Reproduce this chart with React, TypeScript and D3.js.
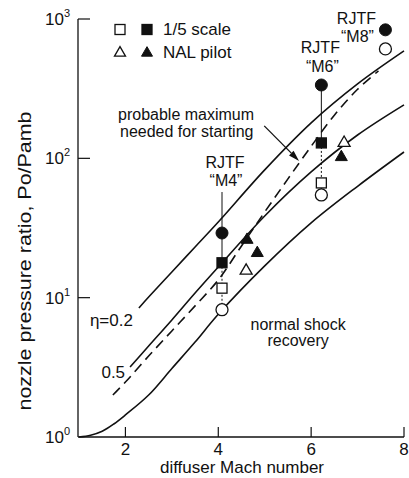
import React from "react";
import * as d3 from "d3";

// ---- axes ----
const xTicks = [2, 4, 6, 8];
const yTicks = [1, 10, 100, 1000];
const yTickExp = ["0", "1", "2", "3"];

// ---- curves (Mach, pressure ratio) ----
const shockM = [1.0, 1.25, 1.5, 1.75, 2.0, 2.5, 3.0, 3.5, 4.0, 5.0, 6.0, 7.0, 8.0];
const shockP = [1.0, 1.03, 1.1, 1.24, 1.44, 2.0, 3.1, 4.8, 7.6, 16.9, 34.4, 63, 111];

const eta05M = [2.1, 2.5, 3.0, 3.5, 4.0, 5.0, 6.0, 7.0, 8.0];
const eta05P = [3.18, 4.5, 6.92, 10.8, 16.6, 38.6, 79.9, 147, 242];

const eta02M = [2.29, 2.5, 3.0, 3.5, 4.0, 5.0, 6.0, 7.0, 8.0];
const eta02P = [8.43, 10.1, 15.3, 23.1, 34.9, 82.6, 179.6, 342, 590];

const startM = [1.73, 2.0, 2.5, 3.0, 3.5, 4.0, 4.5, 5.0, 5.5, 6.0, 6.5, 7.0, 7.45];
const startP = [2.0, 2.48, 3.81, 5.77, 8.73, 13.4, 23.5, 41.2, 71.2, 122, 204, 313, 424];

// ---- test points ----
const rjtfOpenSquare: [number, number][] = [[4.08, 11.7], [6.22, 66.6]];
const rjtfFilledSquare: [number, number][] = [[4.08, 17.8], [6.22, 129]];
const rjtfOpenCircle: [number, number][] = [[4.08, 8.2], [6.22, 54.6], [7.6, 610]];
const rjtfFilledCircle: [number, number][] = [[4.08, 29.1], [6.22, 336], [7.6, 836]];
const nalOpen: [number, number][] = [[4.6, 15.6], [6.71, 129]];
const nalFilled: [number, number][] = [[4.62, 26], [4.84, 20.9], [6.65, 102]];

const rjtfLabels = ["“M4”", "“M6”", "“M8”"];

const W = 409;
const H = 478;
const x = d3.scaleLinear().domain([1, 8]).range([79, 404]);
const y = d3.scaleLog().domain([1, 1000]).range([437, 19]);

const zip = (a: number[], b: number[]) => a.map((v, i) => [v, b[i]] as [number, number]);
const line = d3
  .line<[number, number]>()
  .x((d) => x(d[0]))
  .y((d) => y(d[1]))
  .curve(d3.curveCatmullRom.alpha(0.5));

const FONT = "'Liberation Sans', Arial, Helvetica, sans-serif";
const INK = "#111";
const FS2 = 16; // stacked annotation font size

function tri(cx: number, cy: number, s = 12) {
  const h = (s * Math.sqrt(3)) / 2;
  return `M${cx},${cy - (2 * h) / 3}L${cx + s / 2},${cy + h / 3}L${cx - s / 2},${cy + h / 3}Z`;
}

function Square({ cx, cy, filled }: { cx: number; cy: number; filled: boolean }) {
  return (
    <rect x={cx - 5} y={cy - 5} width={10} height={10} fill={filled ? INK : "#fff"} stroke={INK} strokeWidth={1.3} />
  );
}

export default function App() {
  const ax0 = 78;
  const ay0 = 437;

  // arrow (probable maximum -> dashed line)
  const arrowFrom: [number, number] = [4.99, 171];
  const arrowTo: [number, number] = [5.74, 95.8];
  const ax1 = x(arrowFrom[0]);
  const ay1 = y(arrowFrom[1]);
  const ax2 = x(arrowTo[0]);
  const ay2 = y(arrowTo[1]);
  const ang = Math.atan2(ay2 - ay1, ax2 - ax1);
  const hl = 11;
  const hw = 3.2;
  const bx = ax2 - hl * Math.cos(ang);
  const by = ay2 - hl * Math.sin(ang);
  const arrowHead = `M${ax2},${ay2}L${bx + hw * Math.sin(ang)},${by - hw * Math.cos(ang)}L${bx - hw * Math.sin(ang)},${by + hw * Math.cos(ang)}Z`;

  const fc = rjtfFilledCircle;
  const fs = rjtfFilledSquare;
  const oc = rjtfOpenCircle;

  return (
    <svg
      width={W}
      height={H}
      style={{ position: "absolute", left: 0, top: 0, background: "#fff" }}
      fontFamily={FONT}
    >
      <rect x={0} y={0} width={W} height={H} fill="#fff" />
      {/* axes */}
      <line x1={ax0} y1={y(1000)} x2={ax0} y2={ay0} stroke={INK} strokeWidth={1.3} />
      <line x1={ax0} y1={ay0} x2={x(8)} y2={ay0} stroke={INK} strokeWidth={1.3} />
      {xTicks.map((t) => (
        <g key={"xt" + t}>
          <line x1={x(t)} x2={x(t)} y1={ay0} y2={ay0 - 10} stroke={INK} strokeWidth={1.2} />
          <text x={x(t)} y={455} textAnchor="middle" fontSize={17} fill={INK}>
            {t}
          </text>
        </g>
      ))}
      {yTicks.map((t, i) => (
        <g key={"yt" + t}>
          {i > 0 && <line x1={ax0} x2={ax0 + 12} y1={y(t)} y2={y(t)} stroke={INK} strokeWidth={1.2} />}
          <text x={70} y={y(t) + 6} textAnchor="end" fontSize={17} fill={INK}>
            <tspan>10</tspan>
            <tspan fontSize={11} dy={-8}>
              {yTickExp[i]}
            </tspan>
          </text>
        </g>
      ))}
      <text x={242} y={473} textAnchor="middle" fontSize={17} fill={INK}>
        diffuser Mach number
      </text>
      <text
        transform={`translate(31,261) rotate(-90)`}
        textAnchor="middle"
        fontSize={18}
        fill={INK}
        textLength={299}
        lengthAdjust="spacingAndGlyphs"
      >
        nozzle pressure ratio, Po/Pamb
      </text>

      {/* curves */}
      <path d={line(zip(shockM, shockP)) || ""} fill="none" stroke={INK} strokeWidth={1.6} />
      <path d={line(zip(eta05M, eta05P)) || ""} fill="none" stroke={INK} strokeWidth={1.6} />
      <path d={line(zip(eta02M, eta02P)) || ""} fill="none" stroke={INK} strokeWidth={1.6} />
      <path
        d={line(zip(startM, startP)) || ""}
        fill="none"
        stroke={INK}
        strokeWidth={1.6}
        strokeDasharray="10 6"
      />

      {/* curve labels */}
      <text x={x(eta02M[0]) - 6} y={y(eta02P[0]) + 18} textAnchor="end" fontSize={17} fill={INK}>
        η=0.2
      </text>
      <text x={x(eta05M[0]) - 5} y={y(eta05P[0]) + 11} textAnchor="end" fontSize={17} fill={INK}>
        0.5
      </text>
      <text x={x(5.72)} y={y(5.86)} textAnchor="middle" fontSize={FS2} fill={INK}>
        <tspan x={x(5.72)}>normal shock</tspan>
        <tspan x={x(5.72)} dy={16}>
          recovery
        </tspan>
      </text>
      <text x={118} y={120} fontSize={FS2} fill={INK}>
        <tspan x={118}>probable maximum</tspan>
        <tspan x={120} dy={17}>
          needed for starting
        </tspan>
      </text>
      <line x1={ax1} y1={ay1} x2={bx} y2={by} stroke={INK} strokeWidth={1.3} />
      <path d={arrowHead} fill={INK} />

      {/* connectors */}
      {[0, 1].map((i) => (
        <g key={"con" + i}>
          <line x1={x(fc[i][0])} x2={x(fs[i][0])} y1={y(fc[i][1])} y2={y(fs[i][1])} stroke={INK} strokeWidth={1} />
          <line
            x1={x(fs[i][0])}
            x2={x(oc[i][0])}
            y1={y(fs[i][1])}
            y2={y(oc[i][1])}
            stroke={INK}
            strokeWidth={1}
            strokeDasharray="2 2"
          />
        </g>
      ))}
      <line x1={x(fc[0][0])} x2={x(fc[0][0])} y1={y(fc[0][1]) - 41} y2={y(fc[0][1]) - 6} stroke={INK} strokeWidth={1} />

      {/* markers */}
      {rjtfOpenCircle.map((d, i) => (
        <circle key={"oc" + i} cx={x(d[0])} cy={y(d[1])} r={6} fill="#fff" stroke={INK} strokeWidth={1.3} />
      ))}
      {rjtfFilledCircle.map((d, i) => (
        <circle key={"fc" + i} cx={x(d[0])} cy={y(d[1])} r={6} fill={INK} stroke={INK} strokeWidth={1} />
      ))}
      {rjtfOpenSquare.map((d, i) => (
        <Square key={"os" + i} cx={x(d[0])} cy={y(d[1])} filled={false} />
      ))}
      {rjtfFilledSquare.map((d, i) => (
        <Square key={"fs" + i} cx={x(d[0])} cy={y(d[1])} filled={true} />
      ))}
      {nalOpen.map((d, i) => (
        <path key={"no" + i} d={tri(x(d[0]), y(d[1]))} fill="#fff" stroke={INK} strokeWidth={1.3} />
      ))}
      {nalFilled.map((d, i) => (
        <path key={"nf" + i} d={tri(x(d[0]), y(d[1]))} fill={INK} stroke={INK} strokeWidth={1} />
      ))}

      {/* RJTF labels */}
      <text textAnchor="middle" fontSize={FS2} fill={INK}>
        <tspan x={x(fc[0][0]) + 3} y={y(fc[0][1]) - 65}>RJTF</tspan>
        <tspan x={x(fc[0][0]) + 4} y={y(fc[0][1]) - 47}>{rjtfLabels[0]}</tspan>
      </text>
      <text textAnchor="middle" fontSize={FS2} fill={INK}>
        <tspan x={x(fc[1][0]) - 1} y={y(fc[1][1]) - 32}>RJTF</tspan>
        <tspan x={x(fc[1][0]) + 1} y={y(fc[1][1]) - 13}>{rjtfLabels[1]}</tspan>
      </text>
      <text textAnchor="middle" fontSize={FS2} fill={INK}>
        <tspan x={x(fc[2][0]) - 29} y={y(fc[2][1]) - 6}>RJTF</tspan>
        <tspan x={x(fc[2][0]) - 28} y={y(fc[2][1]) + 12}>{rjtfLabels[2]}</tspan>
      </text>

      {/* legend */}
      <Square cx={120} cy={29.5} filled={false} />
      <Square cx={147} cy={29.5} filled={true} />
      <text x={163} y={35} fontSize={17} fill={INK}>
        1/5 scale
      </text>
      <path d={tri(120, 53, 11)} fill="#fff" stroke={INK} strokeWidth={1.3} />
      <path d={tri(147, 53, 11)} fill={INK} stroke={INK} strokeWidth={1} />
      <text x={163} y={58} fontSize={17} fill={INK}>
        NAL pilot
      </text>
    </svg>
  );
}
